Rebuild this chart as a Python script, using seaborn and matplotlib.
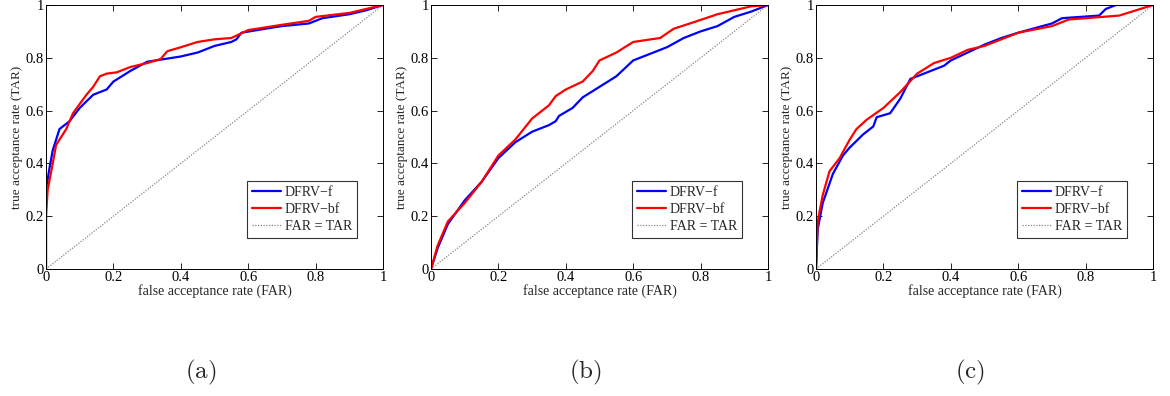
import numpy as np
import pandas as pd
import matplotlib
matplotlib.use("Agg")
import matplotlib.pyplot as plt
import seaborn as sns

# ---------------- data ----------------
a_f_far = [0, 0, 0.01, 0.02, 0.04, 0.07, 0.10, 0.14, 0.18, 0.20, 0.25, 0.30, 0.35, 0.40, 0.45, 0.50, 0.55, 0.565, 0.58, 0.65, 0.70, 0.78, 0.82, 0.90, 0.95, 1.0]
a_f_tar = [0, 0.30, 0.38, 0.45, 0.53, 0.56, 0.61, 0.66, 0.68, 0.71, 0.75, 0.785, 0.795, 0.805, 0.82, 0.845, 0.86, 0.87, 0.895, 0.91, 0.92, 0.93, 0.95, 0.965, 0.98, 1.0]
a_bf_far = [0, 0, 0.005, 0.02, 0.03, 0.06, 0.08, 0.12, 0.14, 0.16, 0.18, 0.21, 0.25, 0.30, 0.34, 0.36, 0.40, 0.45, 0.50, 0.55, 0.60, 0.65, 0.70, 0.78, 0.80, 0.90, 1.0]
a_bf_tar = [0, 0.20, 0.30, 0.40, 0.47, 0.53, 0.59, 0.66, 0.69, 0.73, 0.74, 0.745, 0.765, 0.78, 0.795, 0.825, 0.84, 0.86, 0.87, 0.875, 0.905, 0.915, 0.925, 0.94, 0.955, 0.97, 1.0]

b_f_far = [0, 0.02, 0.05, 0.10, 0.15, 0.20, 0.25, 0.30, 0.35, 0.37, 0.38, 0.42, 0.45, 0.50, 0.55, 0.60, 0.65, 0.70, 0.75, 0.80, 0.85, 0.90, 0.95, 1.0]
b_f_tar = [0, 0.08, 0.17, 0.26, 0.33, 0.42, 0.48, 0.52, 0.545, 0.56, 0.58, 0.61, 0.65, 0.69, 0.73, 0.79, 0.815, 0.84, 0.875, 0.90, 0.92, 0.955, 0.975, 1.0]
b_bf_far = [0, 0.02, 0.05, 0.10, 0.15, 0.20, 0.25, 0.30, 0.35, 0.37, 0.40, 0.45, 0.48, 0.50, 0.55, 0.60, 0.68, 0.72, 0.78, 0.85, 0.95, 1.0]
b_bf_tar = [0, 0.09, 0.18, 0.25, 0.33, 0.43, 0.49, 0.57, 0.62, 0.655, 0.68, 0.71, 0.75, 0.79, 0.82, 0.86, 0.875, 0.91, 0.935, 0.965, 0.995, 1.0]

c_f_far = [0, 0.005, 0.02, 0.05, 0.08, 0.10, 0.14, 0.17, 0.18, 0.22, 0.25, 0.28, 0.32, 0.38, 0.40, 0.45, 0.50, 0.55, 0.60, 0.70, 0.73, 0.84, 0.86, 0.89, 1.0]
c_f_tar = [0, 0.15, 0.25, 0.36, 0.43, 0.46, 0.51, 0.54, 0.575, 0.59, 0.645, 0.72, 0.74, 0.77, 0.79, 0.82, 0.85, 0.875, 0.895, 0.93, 0.95, 0.96, 0.985, 1.0, 1.0]
c_bf_far = [0, 0.005, 0.02, 0.04, 0.07, 0.10, 0.12, 0.15, 0.20, 0.25, 0.30, 0.35, 0.40, 0.45, 0.50, 0.55, 0.60, 0.70, 0.75, 0.85, 0.90, 0.95, 1.0]
c_bf_tar = [0, 0.18, 0.28, 0.37, 0.42, 0.49, 0.53, 0.565, 0.61, 0.67, 0.74, 0.78, 0.80, 0.83, 0.845, 0.87, 0.895, 0.92, 0.945, 0.955, 0.96, 0.98, 1.0]

diag = [0, 1]
panel_labels = ["(a)", "(b)", "(c)"]
series_names = ["DFRV\u2212f", "DFRV\u2212bf", "FAR = TAR"]
ticks = [0, 0.2, 0.4, 0.6, 0.8, 1]
tick_labels = ["0", "0.2", "0.4", "0.6", "0.8", "1"]

panels = [
    (a_f_far, a_f_tar, a_bf_far, a_bf_tar),
    (b_f_far, b_f_tar, b_bf_far, b_bf_tar),
    (c_f_far, c_f_tar, c_bf_far, c_bf_tar),
]

# ---------------- style ----------------
sns.set_style("ticks")
plt.rcParams["font.family"] = ["Liberation Serif", "DejaVu Serif"]
plt.rcParams["mathtext.fontset"] = "cm"

fig = plt.figure(figsize=(11.7, 3.96), dpi=100)
W, H = 1170, 396
lefts = [46, 431, 816]
ax_w = 337
ax_top, ax_bot = 5, 269

for i, (ff, ft, bf, bt) in enumerate(panels):
    ax = fig.add_axes([lefts[i] / W, 1 - ax_bot / H, ax_w / W, (ax_bot - ax_top) / H])
    df_f = pd.DataFrame({"far": ff, "tar": ft})
    df_b = pd.DataFrame({"far": bf, "tar": bt})
    df_d = pd.DataFrame({"far": diag, "tar": diag})
    sns.lineplot(data=df_f, x="far", y="tar", ax=ax, color=(0, 0, 1), lw=1.6,
                 sort=False, estimator=None, label=series_names[0])
    sns.lineplot(data=df_b, x="far", y="tar", ax=ax, color=(1, 0, 0), lw=1.6,
                 sort=False, estimator=None, label=series_names[1])
    sns.lineplot(data=df_d, x="far", y="tar", ax=ax, color="#888888", lw=0.9,
                 linestyle=(0, (1, 1.2)), sort=False, estimator=None, label=series_names[2])
    ax.set_xlim(0, 1)
    ax.set_ylim(0, 1)
    ax.set_xticks(ticks)
    ax.set_yticks(ticks)
    ax.set_xticklabels(tick_labels)
    ax.set_yticklabels(tick_labels)
    ax.tick_params(direction="in", top=True, right=True, length=4, width=0.6,
                   labelsize=10.5, pad=1.5, colors="black")
    for s in ax.spines.values():
        s.set_visible(True)
        s.set_linewidth(0.7)
        s.set_color("black")
    ax.set_xlabel("false acceptance rate (FAR)", fontsize=10, labelpad=0)
    ax.set_ylabel("true acceptance rate (TAR)", fontsize=9.5, labelpad=2)
    leg = ax.legend(loc="lower right", bbox_to_anchor=(0.923, 0.117), fontsize=10,
                    frameon=True, fancybox=False, edgecolor="black",
                    handlelength=2.1, handletextpad=0.25, borderpad=0.35,
                    labelspacing=0.3, borderaxespad=0)
    leg.get_frame().set_linewidth(0.8)
    fig.text((lefts[i] + ax_w / 2 - 14) / W, 1 - 372 / H, r"$\mathrm{" + panel_labels[i] + "}$",
             ha="center", va="center", fontsize=18)

fig.savefig("out.png", dpi=100)
